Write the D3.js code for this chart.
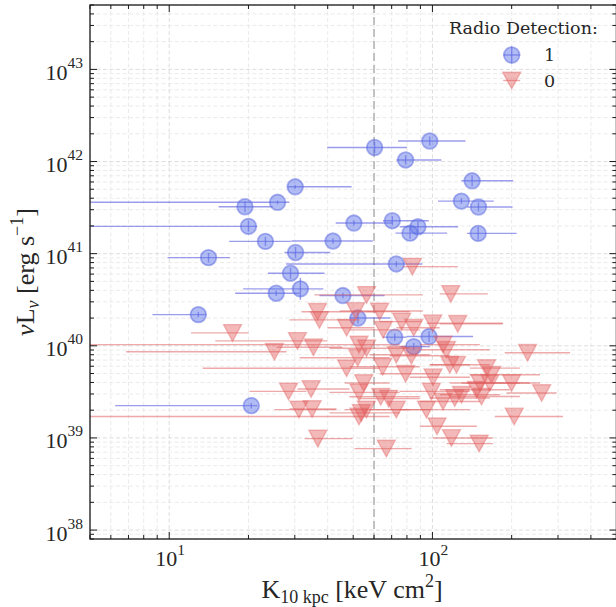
<!DOCTYPE html>
<html><head><meta charset="utf-8">
<script src="https://cdn.jsdelivr.net/npm/d3@7"></script>
<style>body{margin:0;background:#fff}svg{display:block}</style>
</head><body><svg id="c" width="616" height="607"></svg>
<script>
// ---- data: radio detected (1) ----
const blueK   = [30.1, 25.8, 19.4, 20.0, 23.2, 41.9, 14.1, 30.2, 72.9, 28.9, 31.5, 25.5, 45.7, 12.9, 20.5, 52.1, 71.9, 97.1, 84.9, 60.3, 97.7, 79.1, 141.5, 128.8, 149.6, 50.3, 70.4, 88.1, 82.2, 149.2];
const blueL   = [5.32e41, 3.61e41, 3.23e41, 1.98e41, 1.36e41, 1.37e41, 9.06e40, 1.03e41, 7.73e40, 6.14e40, 4.15e40, 3.72e40, 3.51e40, 2.18e40, 2.24e39, 2.0e40, 1.24e40, 1.26e40, 9.8e39, 1.42e42, 1.67e42, 1.04e42, 6.18e41, 3.72e41, 3.21e41, 2.15e41, 2.28e41, 1.96e41, 1.67e41, 1.66e41];
const blueKlo = [28.1, 3.5, 15.4, 3.5, 16.9, 29.1, 9.85, 27.4, 27.8, 23.7, 19.1, 17.8, 37.2, 8.64, 6.23, 48.4, 64.7, 79.6, 75.1, 39.8, 74.0, 72.9, 128.8, 105, 135.4, 42.9, 64.9, 75.1, 72.4, 135.4];
const blueKhi = [49.3, 28.6, 24.7, 21.6, 29.0, 59.3, 17.0, 40.9, 91.6, 38.9, 38.5, 31.3, 65.8, 13.8, 21.6, 69.2, 79.6, 142.7, 97.7, 80.1, 133.6, 108.1, 202.7, 171, 201.6, 70.6, 96.8, 125.2, 113.7, 208.9];
const blueLdex = [0.02, 0.02, 0.06, 0.06, 0.05, 0.03, 0.05, 0.06, 0.03, 0.06, 0.12, 0.03, 0.03, 0.03, 0.03, 0.06, 0.04, 0.06, 0.04, 0.06, 0.05, 0.05, 0.06, 0.03, 0.05, 0.03, 0.05, 0.06, 0.06, 0.07];

// ---- data: radio non-detected (0) ----
const redK   = [17.4, 25.1, 30.7, 35.3, 36.6, 37.2, 56.2, 51.1, 63.0, 47.2, 65.0, 52.6, 56.2, 52.0, 47.2, 64.7, 117.4, 76.4, 84.9, 100.3, 124.8, 72.9, 83.2, 109.7, 113.1, 116.4, 123.4, 160.6, 167.7, 229.9, 79.1, 100.5, 28.4, 34.6, 31.1, 34.9, 36.7, 52.6, 54.8, 53.7, 56.1, 52.6, 66.8, 63.6, 68.2, 151.4, 165.2, 147.1, 153.7, 199.8, 260.0, 72.9, 94.9, 109.7, 99.1, 121.6, 128.9, 204.5, 104.1, 118.1, 150.5, 83.9];
const redL   = [1.38e40, 8.61e39, 1.13e40, 9.63e39, 2.34e40, 1.91e40, 3.57e40, 2.39e40, 2.35e40, 1.57e40, 1.49e40, 1.03e40, 9.40e39, 7.41e39, 5.70e39, 5.92e39, 3.66e40, 1.83e40, 1.57e40, 1.76e40, 1.73e40, 7.99e39, 7.79e39, 1.03e40, 9.05e39, 6.22e39, 6.22e39, 5.73e39, 4.85e39, 8.40e39, 4.97e39, 4.56e39, 3.20e39, 3.40e39, 2.03e39, 2.06e39, 9.83e38, 3.12e39, 3.94e39, 1.87e39, 2.03e39, 1.71e39, 7.66e38, 2.80e39, 2.67e39, 3.94e39, 3.94e39, 3.34e39, 2.82e39, 3.94e39, 3.07e39, 2.03e39, 2.03e39, 2.49e39, 3.20e39, 2.71e39, 2.94e39, 1.71e39, 1.34e39, 1.0e39, 8.68e38, 7.23e40];
const redKlo = [12.1, 6.86, 14.96, 25.6, 31.8, 28.6, 35.6, 44.4, 56.2, 39.9, 48.4, 3.5, 40.6, 31.3, 13.4, 48.4, 106.6, 63.0, 72.9, 95.1, 106.6, 57.7, 68.8, 89.5, 89.5, 97.7, 97.7, 138.7, 138.7, 188.4, 63.0, 82.0, 20.2, 30.7, 25.1, 28.6, 32.7, 40.6, 46.4, 40.6, 46.4, 3.5, 50.6, 48.4, 52.9, 116.4, 128.9, 106.6, 116.4, 134.7, 191.2, 57.7, 75.1, 89.5, 75.1, 97.7, 106.6, 172.6, 89.5, 100.3, 113.3, 77.1];
const redKhi = [20.0, 27.9, 39.9, 45.5, 61.4, 52.9, 91.9, 91.9, 82.0, 60.3, 89.5, 75.1, 82.0, 68.8, 63.0, 89.5, 162.4, 91.0, 106.6, 185.2, 185.2, 97.7, 116.4, 151.4, 165.2, 138.7, 165.2, 214.9, 256.2, 333.2, 106.6, 138.7, 33.2, 48.4, 43.2, 43.2, 49.7, 75.1, 68.8, 75.1, 82.0, 68.8, 83.4, 89.5, 89.5, 214.9, 234.6, 196.9, 214.9, 256.2, 296.5, 97.7, 138.7, 151.4, 138.7, 165.2, 180.4, 313.3, 147.5, 169.6, 169.6, 124.8];

// ---- axes / labels ----
const xDomain = [5, 500];
const yDomain = [8e37, 5e43];
const xTickExps = ["1", "2"];
const yTickExps = ["38", "39", "40", "41", "42", "43"];
const kCut = 60;
const legendTitle = "Radio Detection:";
const legendLabels = ["1", "0"];

const svg = d3.select('#c');
const L = 90, R = 616.4, T = 5, B = 539;
const x = d3.scaleLog().domain(xDomain).range([L, R]);
const y = d3.scaleLog().domain(yDomain).range([B, T]);
const isMajor = v => Math.abs(Math.log10(v) - Math.round(Math.log10(v))) < 1e-9;

svg.append('defs').append('clipPath').attr('id', 'clip')
  .append('rect').attr('x', L).attr('y', T).attr('width', R - L).attr('height', B - T);

const xt = x.ticks(), yt = y.ticks();
// grid
const grid = svg.append('g');
xt.forEach(v => grid.append('line').attr('x1', x(v)).attr('x2', x(v)).attr('y1', T).attr('y2', B)
  .attr('stroke', isMajor(v) ? '#d9d9d9' : '#e8e8e8').attr('stroke-width', 0.9).attr('stroke-dasharray', '4,2.5'));
yt.forEach(v => grid.append('line').attr('y1', y(v)).attr('y2', y(v)).attr('x1', L).attr('x2', R)
  .attr('stroke', isMajor(v) ? '#d9d9d9' : '#e8e8e8').attr('stroke-width', 0.9).attr('stroke-dasharray', '4,2.5'));

// vertical cut line
svg.append('line').attr('x1', x(kCut)).attr('x2', x(kCut)).attr('y1', T).attr('y2', B)
  .attr('stroke', '#b5b5b5').attr('stroke-width', 1.6).attr('stroke-dasharray', '8,4');

const plot = svg.append('g').attr('clip-path', 'url(#clip)');

function drawBlue(g) {
  blueK.forEach((k, i) => {
    const cy = y(blueL[i]);
    g.append('line').attr('x1', x(blueKlo[i])).attr('x2', x(blueKhi[i])).attr('y1', cy).attr('y2', cy)
      .attr('stroke', '#5a5ae0').attr('stroke-opacity', 0.6).attr('stroke-width', 1.4);
    g.append('line').attr('x1', x(k)).attr('x2', x(k))
      .attr('y1', y(blueL[i] * Math.pow(10, blueLdex[i]))).attr('y2', y(blueL[i] / Math.pow(10, blueLdex[i])))
      .attr('stroke', '#5a5ae0').attr('stroke-opacity', 0.6).attr('stroke-width', 1.4);
  });
  blueK.forEach((k, i) => {
    g.append('circle').attr('cx', x(k)).attr('cy', y(blueL[i])).attr('r', 7.8)
      .attr('fill', '#5b74e8').attr('fill-opacity', 0.48)
      .attr('stroke', '#5a68e0').attr('stroke-opacity', 0.5).attr('stroke-width', 1.8);
  });
}
function tri(g, cx, cy) {
  g.append('path').attr('d', `M${cx - 9},${cy - 8.3}L${cx + 9},${cy - 8.3}L${cx},${cy + 8.3}Z`)
    .attr('fill', '#e25858').attr('fill-opacity', 0.42)
    .attr('stroke', '#e06060').attr('stroke-opacity', 0.4).attr('stroke-width', 1.4).attr('stroke-linejoin', 'miter');
}
function drawRed(g) {
  redK.forEach((k, i) => {
    const cy = y(redL[i]);
    g.append('line').attr('x1', x(redKlo[i])).attr('x2', x(redKhi[i])).attr('y1', cy).attr('y2', cy)
      .attr('stroke', '#e06464').attr('stroke-opacity', 0.55).attr('stroke-width', 1.4);
  });
  redK.forEach((k, i) => tri(g, x(k), y(redL[i])));
}
drawBlue(plot);
drawRed(plot);

// spines
const ax = svg.append('g');
ax.append('rect').attr('x', L).attr('y', T).attr('width', R - L).attr('height', B - T)
  .attr('fill', 'none').attr('stroke', '#1a1a1a').attr('stroke-width', 1.3);
// ticks, inward on all sides
xt.forEach(v => {
  const len = isMajor(v) ? 7 : 4, px = x(v);
  ax.append('line').attr('x1', px).attr('x2', px).attr('y1', B).attr('y2', B - len).attr('stroke', '#1a1a1a').attr('stroke-width', 1);
  ax.append('line').attr('x1', px).attr('x2', px).attr('y1', T).attr('y2', T + len).attr('stroke', '#1a1a1a').attr('stroke-width', 1);
});
yt.forEach(v => {
  const len = isMajor(v) ? 7 : 4, py = y(v);
  ax.append('line').attr('y1', py).attr('y2', py).attr('x1', L).attr('x2', L + len).attr('stroke', '#1a1a1a').attr('stroke-width', 1);
  ax.append('line').attr('y1', py).attr('y2', py).attr('x1', R).attr('x2', R - len).attr('stroke', '#1a1a1a').attr('stroke-width', 1);
});

const serif = "'Liberation Serif','Times New Roman',serif";
// y tick labels
yTickExps.forEach(e => {
  const t = svg.append('text').attr('x', 83).attr('y', y(Math.pow(10, +e)) + 10.5)
    .attr('text-anchor', 'end').attr('font-family', serif).attr('fill', '#262626');
  t.append('tspan').attr('font-size', 22).text('10');
  t.append('tspan').attr('font-size', 15.5).attr('dy', -12).text(e);
});
// x tick labels
xTickExps.forEach(e => {
  const t = svg.append('text').attr('x', x(Math.pow(10, +e)) + 1).attr('y', 566)
    .attr('text-anchor', 'middle').attr('font-family', serif).attr('fill', '#262626');
  t.append('tspan').attr('font-size', 22).text('10');
  t.append('tspan').attr('font-size', 15.5).attr('dy', -11).text(e);
});

// x axis label
{
  const t = svg.append('text').attr('x', 352).attr('y', 598).attr('text-anchor', 'middle')
    .attr('font-family', serif).attr('fill', '#262626').attr('font-size', 26);
  t.append('tspan').text('K');
  t.append('tspan').attr('font-size', 18).attr('dy', 5).text('10 kpc');
  t.append('tspan').attr('dy', -5).text(' [keV cm');
  t.append('tspan').attr('font-size', 18).attr('dy', -11).text('2');
  t.append('tspan').attr('dy', 11).text(']');
}
// y axis label
{
  const t = svg.append('text').attr('transform', 'translate(34,272) rotate(-90)').attr('text-anchor', 'middle')
    .attr('font-family', serif).attr('fill', '#262626').attr('font-size', 26);
  t.append('tspan').attr('font-style', 'italic').text('ν');
  t.append('tspan').text('L');
  t.append('tspan').attr('font-size', 18).attr('font-style', 'italic').attr('dy', 5).text('ν');
  t.append('tspan').attr('dy', -5).text(' [erg s');
  t.append('tspan').attr('font-size', 18).attr('dy', -11).text('−1');
  t.append('tspan').attr('dy', 11).text(']');
}

// legend
const lg = svg.append('g').attr('font-family', "'DejaVu Serif',serif").attr('fill', '#262626');
lg.append('text').attr('x', 449).attr('y', 34.3).attr('font-size', 17.5).text(legendTitle);
{
  const cx = 511.7, cy = 55;
  lg.append('line').attr('x1', cx - 8.5).attr('x2', cx + 8.5).attr('y1', cy).attr('y2', cy)
    .attr('stroke', '#5a5ae0').attr('stroke-opacity', 0.6).attr('stroke-width', 1.4);
  lg.append('line').attr('x1', cx).attr('x2', cx).attr('y1', cy - 8.5).attr('y2', cy + 8.5)
    .attr('stroke', '#5a5ae0').attr('stroke-opacity', 0.6).attr('stroke-width', 1.4);
  lg.append('circle').attr('cx', cx).attr('cy', cy).attr('r', 7.8)
    .attr('fill', '#5b74e8').attr('fill-opacity', 0.48)
    .attr('stroke', '#5a68e0').attr('stroke-opacity', 0.5).attr('stroke-width', 1.8);
  lg.append('text').attr('x', 544).attr('y', 60.5).attr('font-size', 17.5).text(legendLabels[0]);
}
{
  const cx = 511.7, cy = 80.5;
  lg.append('line').attr('x1', cx - 8.5).attr('x2', cx + 8.5).attr('y1', cy).attr('y2', cy)
    .attr('stroke', '#e06464').attr('stroke-opacity', 0.55).attr('stroke-width', 1.4);
  tri(lg, cx, cy);
  lg.append('text').attr('x', 544).attr('y', 86.7).attr('font-size', 17.5).text(legendLabels[1]);
}
</script></body></html>
